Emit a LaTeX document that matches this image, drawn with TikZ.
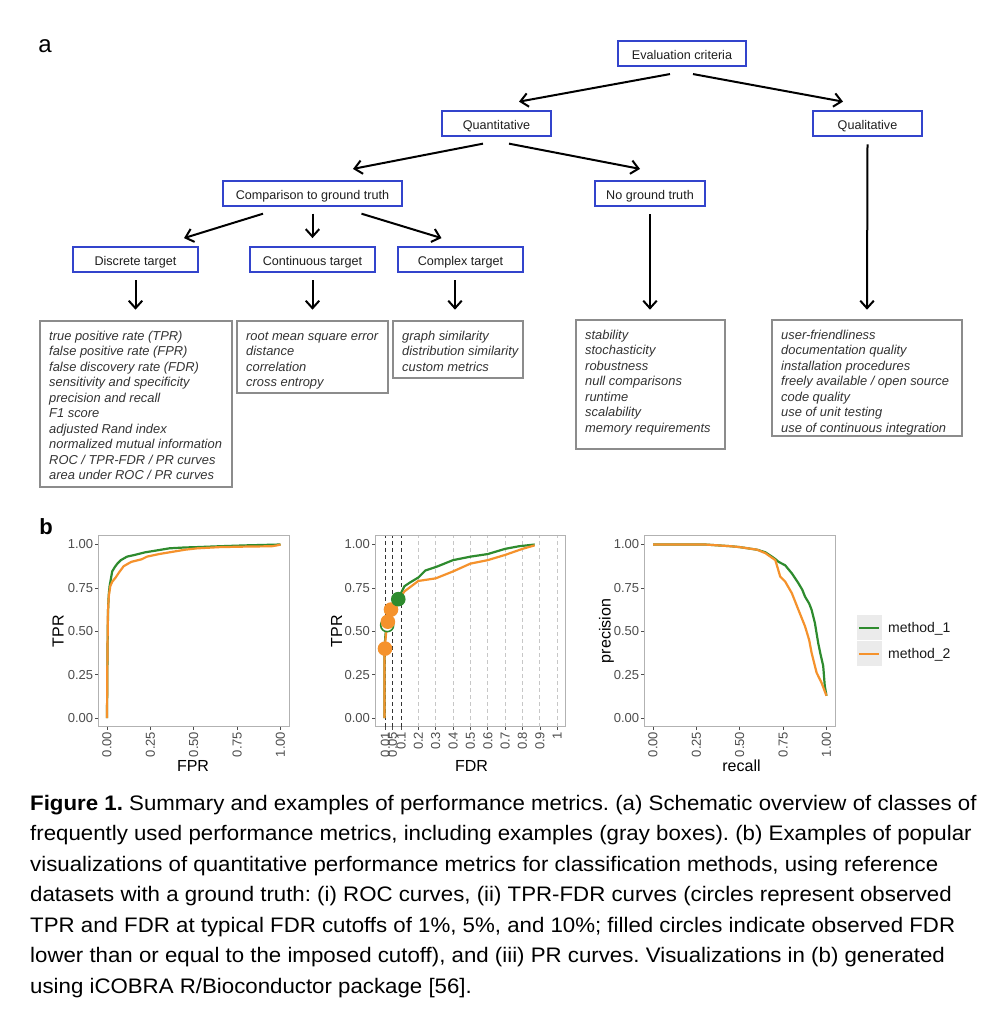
\documentclass[tikz,border=0pt]{standalone}
\usepackage{fontspec}
\setmainfont{Liberation Sans}
\newfontfamily\capfont{Liberation Sans}[FakeStretch=1.06]
\usetikzlibrary{arrows.meta,calc}
\definecolor{boxblue}{HTML}{3344CC}
\definecolor{boxgray}{HTML}{8C8C8C}
\definecolor{mgreen}{HTML}{2E8B2E}
\definecolor{morange}{HTML}{F5922C}
\definecolor{ticktext}{HTML}{4D4D4D}
\definecolor{keybg}{HTML}{EBEBEB}
\begin{document}
\begin{tikzpicture}[x=1pt,y=-1pt,
  bluebox/.style={draw=boxblue, line width=2.2pt, inner sep=0pt, minimum height=25.5pt, text height=11.3pt, text depth=0pt, text=black!88, font=\fontsize{12.6}{14}\selectfont},
  graybox/.style={draw=boxgray, line width=2pt, inner sep=0pt},
  exlist/.style={anchor=north west, align=left, inner sep=0pt, text=black!80, font=\fontsize{12.9}{15.5}\selectfont\itshape},
  arr/.style={line width=2pt, -{Straight Barb[length=7.5pt,width=13.5pt]}},
  panel/.style={draw=black!30, line width=0.8pt},
  tick/.style={draw=black!70, line width=0.7pt},
  ticklab/.style={text=ticktext, inner sep=0pt, font=\fontsize{13}{15}\selectfont},
  axtitle/.style={inner sep=0pt, text=black, font=\fontsize{16}{18}\selectfont},
  gline/.style={draw=mgreen, line width=2.2pt, line join=round},
  oline/.style={draw=morange, line width=2.2pt, line join=round},
  cutdark/.style={draw=black!80, line width=0.9pt, dash pattern=on 4pt off 3pt},
  cutlight/.style={draw=black!22, line width=0.9pt, dash pattern=on 4pt off 3pt}
]
\useasboundingbox (0,0) rectangle (990,1031);
\fill[white] (0,0) rectangle (990,1031);

% ---------- panel a ----------
\node[inner sep=0pt, font=\fontsize{24}{26}\selectfont] (la) at (45,46) {a};

\node[bluebox, minimum width=128pt] (eval) at (682,53.5) {Evaluation criteria};
\node[bluebox, minimum width=109pt] (quant) at (496.5,123.5) {Quantitative};
\node[bluebox, minimum width=109pt] (qual) at (867.5,123.5) {Qualitative};
\node[bluebox, minimum width=179pt, minimum height=25pt] (cgt) at (312.5,193.5) {Comparison to ground truth};
\node[bluebox, minimum width=110pt, minimum height=25pt] (ngt) at (650,193.5) {No ground truth};
\node[bluebox, minimum width=125pt, minimum height=25pt] (disc) at (135.5,259.7) {Discrete target};
\node[bluebox, minimum width=125pt, minimum height=25pt] (cont) at (312.5,259.7) {Continuous target};
\node[bluebox, minimum width=125pt, minimum height=25pt] (comp) at (460.5,259.7) {Complex target};

\node[graybox, minimum width=192pt, minimum height=166pt] (g1) at (136,404) {};
\node[graybox, minimum width=151pt, minimum height=72pt] (g2) at (312.5,357) {};
\node[graybox, minimum width=130pt, minimum height=57pt] (g3) at (458,349.5) {};
\node[graybox, minimum width=149pt, minimum height=129pt] (g4) at (650.5,384.5) {};
\node[graybox, minimum width=190pt, minimum height=116pt] (g5) at (867,378) {};

\node[exlist] (t1) at ($(g1.north west)+(10,9)$) {\strut true positive rate (TPR)\\false positive rate (FPR)\\false discovery rate (FDR)\\sensitivity and specificity\\precision and recall\\F1 score\\adjusted Rand index\\normalized mutual information\\ROC / TPR-FDR / PR curves\\area under ROC / PR curves};
\node[exlist] (t2) at ($(g2.north west)+(10,9)$) {\strut root mean square error\\distance\\correlation\\cross entropy};
\node[exlist] (t3) at ($(g3.north west)+(10,9)$) {\strut graph similarity\\distribution similarity\\custom metrics};
\node[exlist] (t4) at ($(g4.north west)+(10,9)$) {\strut stability\\stochasticity\\robustness\\null comparisons\\runtime\\scalability\\memory requirements};
\node[exlist] (t5) at ($(g5.north west)+(10,9)$) {\strut user-friendliness\\documentation quality\\installation procedures\\freely available / open source\\code quality\\use of unit testing\\use of continuous integration};

\draw[arr] ($(eval.south)+(-12,6.7)$) -- ($(quant.north)+(22.5,-8)$);
\draw[arr] ($(eval.south)+(11,6.7)$) -- ($(qual.north)+(-24.5,-8)$);
\draw[arr] ($(quant.south)+(-13.5,6.3)$) -- ($(cgt.north)+(40.5,-11)$);
\draw[arr] ($(quant.south)+(12.5,6.3)$) -- ($(ngt.north)+(-10,-11)$);
\draw[arr] ($(qual.south)+(0,7)$) -- ($(g5.north)+(0,-9.3)$);
\draw[arr] ($(ngt.south)+(0,7)$) -- ($(g4.north)+(-0.5,-9.3)$);
\draw[arr] ($(cgt.south)+(-49.5,6.6)$) -- ($(disc.north)+(48.5,-8)$);
\draw[arr] ($(cgt.south)+(0,6.6)$) -- ($(cont.north)+(0,-8)$);
\draw[arr] ($(cgt.south)+(49,6.6)$) -- ($(comp.north)+(-19,-8)$);
\draw[arr] ($(disc.south)+(0,7)$) -- ($(g1.north)+(-0.5,-10.3)$);
\draw[arr] ($(cont.south)+(0,7)$) -- ($(g2.north)+(0,-10.3)$);
\draw[arr] ($(comp.south)+(-5.5,7)$) -- ($(g3.north)+(-3,-10.3)$);

% ---------- panel b ----------
\node[inner sep=0pt, font=\fontsize{22}{24}\selectfont\bfseries] (lb) at (46,527) {b};

% ROC
\begin{scope}[shift={(107,718)}, x=173.5pt, y=173.5pt]
  \draw[panel] (-0.05,-0.05) rectangle (1.05,1.05);
  \foreach \v/\t in {0/0.00,0.25/0.25,0.5/0.50,0.75/0.75,1/1.00}{
    \draw[tick] (-0.05,\v) -- ++(-3pt,0pt);
    \node[ticklab, anchor=east, xshift=-5pt] at (-0.05,\v) {\t};
    \draw[tick] (\v,-0.05) -- ++(0pt,-3pt);
    \node[ticklab, anchor=east, rotate=90] at ($(\v,-0.05)+(0pt,-5pt)$) {\t};
  }
  \draw[gline] plot coordinates {(0,0) (0.003,0.4) (0.006,0.62) (0.01,0.71) (0.015,0.76) (0.022,0.8) (0.03,0.845) (0.045,0.87) (0.06,0.89) (0.08,0.91) (0.115,0.93) (0.16,0.94) (0.22,0.955) (0.3,0.968) (0.36,0.978) (0.45,0.983) (0.52,0.985) (0.65,0.99) (0.8,0.995) (1,1)};
  \draw[oline] plot coordinates {(0,0) (0.002,0.3) (0.005,0.6) (0.01,0.7) (0.019,0.76) (0.03,0.785) (0.05,0.81) (0.07,0.84) (0.096,0.875) (0.14,0.9) (0.2,0.915) (0.23,0.93) (0.3,0.945) (0.36,0.955) (0.45,0.97) (0.52,0.978) (0.65,0.985) (0.8,0.988) (0.95,0.99) (0.98,0.995) (1,1)};
\end{scope}
\node[axtitle, rotate=90] (roty) at (58,631) {TPR};
\node[axtitle] (rotx) at (193,766) {FPR};

% TPR-FDR
\begin{scope}[shift={(383.7,718)}, x=173.5pt, y=173.5pt]
  \draw[panel] (-0.05,-0.05) rectangle (1.05,1.05);
  \foreach \v in {0.2,0.3,0.4,0.5,0.6,0.7,0.8,0.9,1}{
    \draw[cutlight] (\v,-0.05) -- (\v,1.05);
  }
  \foreach \v in {0.01,0.05,0.1}{
    \draw[cutdark] (\v,-0.05) -- (\v,1.05);
  }
  \foreach \v/\t in {0/0.00,0.25/0.25,0.5/0.50,0.75/0.75,1/1.00}{
    \draw[tick] (-0.05,\v) -- ++(-3pt,0pt);
    \node[ticklab, anchor=east, xshift=-5pt] at (-0.05,\v) {\t};
  }
  \foreach \v/\t in {0.01/0.01,0.05/0.05,0.1/0.1,0.2/0.2,0.3/0.3,0.4/0.4,0.5/0.5,0.6/0.6,0.7/0.7,0.8/0.8,0.9/0.9,1/1}{
    \draw[tick] (\v,-0.05) -- ++(0pt,-3pt);
    \node[ticklab, anchor=east, rotate=90] at ($(\v,-0.05)+(0pt,-5pt)$) {\t};
  }
  \draw[gline] plot coordinates {(0.005,0) (0.005,0.4) (0.01,0.48) (0.02,0.54) (0.04,0.62) (0.07,0.67) (0.1,0.72) (0.12,0.76) (0.15,0.78) (0.2,0.81) (0.24,0.85) (0.3,0.87) (0.4,0.91) (0.5,0.93) (0.6,0.945) (0.7,0.975) (0.78,0.99) (0.87,1)};
  \draw[oline] plot coordinates {(0.005,0) (0.005,0.40) (0.015,0.5) (0.023,0.553) (0.042,0.625) (0.07,0.66) (0.1,0.7) (0.12,0.73) (0.2,0.79) (0.3,0.805) (0.4,0.845) (0.5,0.89) (0.6,0.91) (0.7,0.94) (0.8,0.975) (0.87,0.995)};
  \draw[draw=mgreen, fill=white, line width=1.6pt] (0.02,0.535) circle[radius=6.5pt];
  \fill[morange] (0.0075,0.40) circle[radius=7.3pt];
  \fill[morange] (0.024,0.555) circle[radius=7.3pt];
  \fill[morange] (0.042,0.625) circle[radius=7.3pt];
  \fill[mgreen] (0.084,0.685) circle[radius=7.3pt];
\end{scope}
\node[axtitle, rotate=90] (fdry) at (336.5,631) {TPR};
\node[axtitle] (fdrx) at (471.5,766) {FDR};

% PR
\begin{scope}[shift={(653,718)}, x=173.5pt, y=173.5pt]
  \draw[panel] (-0.05,-0.05) rectangle (1.05,1.05);
  \foreach \v/\t in {0/0.00,0.25/0.25,0.5/0.50,0.75/0.75,1/1.00}{
    \draw[tick] (-0.05,\v) -- ++(-3pt,0pt);
    \node[ticklab, anchor=east, xshift=-5pt] at (-0.05,\v) {\t};
    \draw[tick] (\v,-0.05) -- ++(0pt,-3pt);
    \node[ticklab, anchor=east, rotate=90] at ($(\v,-0.05)+(0pt,-5pt)$) {\t};
  }
  \draw[gline] plot coordinates {(0,1) (0.3,1) (0.45,0.99) (0.5,0.985) (0.6,0.97) (0.648,0.955) (0.7,0.92) (0.724,0.9) (0.762,0.88) (0.8,0.834) (0.838,0.777) (0.86,0.74) (0.876,0.7) (0.9,0.66) (0.914,0.624) (0.933,0.548) (0.952,0.433) (0.965,0.37) (0.981,0.3) (0.99,0.185) (1,0.128)};
  \draw[oline] plot coordinates {(0,1) (0.3,1) (0.45,0.99) (0.5,0.985) (0.6,0.97) (0.648,0.95) (0.705,0.91) (0.72,0.86) (0.733,0.815) (0.762,0.786) (0.8,0.72) (0.838,0.624) (0.876,0.529) (0.9,0.45) (0.914,0.376) (0.943,0.261) (0.971,0.204) (1,0.128)};
\end{scope}
\node[axtitle, rotate=90] (pry) at (606.5,631) {precision};
\node[axtitle] (prx) at (741.5,766) {recall};

% legend
\fill[keybg] (856.7,615) rectangle (881.7,640);
\fill[keybg] (856.7,641) rectangle (881.7,666);
\draw[gline] (859.3,628) -- (879.3,628);
\draw[oline] (859.3,654) -- (879.3,654);
\node[anchor=west, inner sep=0pt, font=\fontsize{14}{16}\selectfont, text=black!90] (k1) at (888,628.5) {method\_1};
\node[anchor=west, inner sep=0pt, font=\fontsize{14}{16}\selectfont, text=black!90] (k2) at (888,654.5) {method\_2};

% caption
\node[anchor=north west, align=left, inner sep=0pt, font=\capfont\fontsize{21}{30.5}\selectfont\frenchspacing] (cap) at (30,788.6) {%
\strut\textbf{Figure 1.} Summary and examples of performance metrics. (a) Schematic overview of classes of\\
frequently used performance metrics, including examples (gray boxes). (b) Examples of popular\\
visualizations of quantitative performance metrics for classification methods, using reference\\
datasets with a ground truth: (i) ROC curves, (ii) TPR-FDR curves (circles represent observed\\
TPR and FDR at typical FDR cutoffs of 1\%, 5\%, and 10\%; filled circles indicate observed FDR\\
lower than or equal to the imposed cutoff), and (iii) PR curves. Visualizations in (b) generated\\
using iCOBRA R/Bioconductor package [56].};
\end{tikzpicture}
\end{document}
